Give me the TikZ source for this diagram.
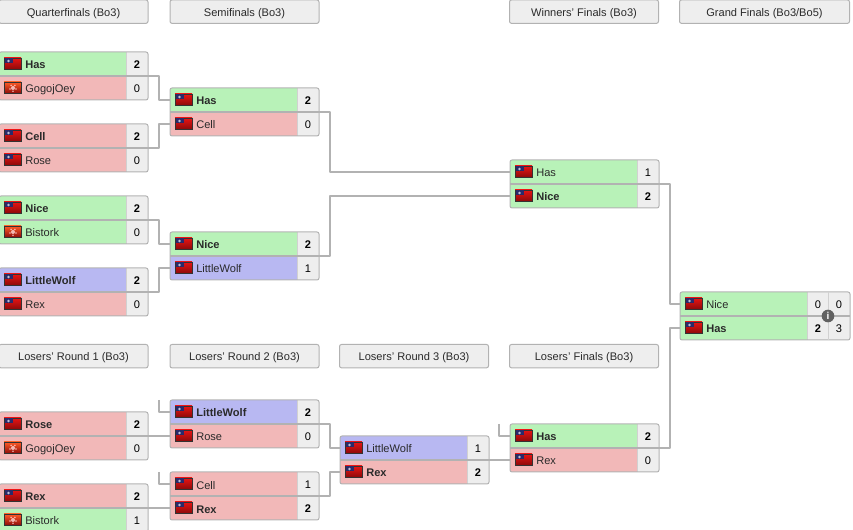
\documentclass[tikz,border=0pt]{standalone}
\usepackage{fontspec}
\setmainfont{Liberation Sans}
\definecolor{wingreen}{HTML}{B8F2B8}
\definecolor{losered}{HTML}{F2B8B8}
\definecolor{upblue}{HTML}{B8B8F2}
\definecolor{cellgray}{HTML}{EEEEEE}
\definecolor{edgegray}{HTML}{B2B2B2}
\definecolor{headtext}{HTML}{2A2A2A}
\definecolor{flagred}{HTML}{E81414}
\definecolor{flagdark}{HTML}{8A0A0A}
\definecolor{flagblue}{HTML}{2A2A6A}
\tikzset{
  cellfont/.style={font=\fontsize{8.3pt}{10pt}\selectfont,text height=9pt,text depth=2pt},
  cellbox/.style={anchor=north west,inner sep=0pt,outer sep=0pt,minimum height=18pt},
  namecell/.style={cellbox,minimum width=95.25pt},
  scorecell/.style={cellbox,cellfont,fill=cellgray,minimum width=16.5pt,text=black},
  nametext/.style={anchor=base west,inner sep=0pt,font=\fontsize{8.3pt}{10pt}\selectfont,text=headtext},
  framebox/.style={anchor=north west,draw=edgegray,line width=.75pt,rounded corners=1.5pt,inner sep=0pt,outer sep=0pt,minimum height=36pt},
  headbox/.style={anchor=north west,draw=edgegray,fill=cellgray,line width=.75pt,rounded corners=1.5pt,inner sep=0pt,outer sep=0pt,minimum height=17.5pt,cellfont,text=headtext},
  conn/.style={draw=edgegray,line width=1.5pt,line join=round},
}
% flags
\newcommand{\twflag}[2]{%
  \shade[top color=flagred,bottom color=flagdark,draw=black!80,line width=.5pt] (#1,#2-6) rectangle (#1+17,#2+5.5);
  \fill[flagblue] (#1+.5,#2-5.5) rectangle (#1+8.5,#2-.5);
  \fill[white!70!flagblue] (#1+4.5,#2-3) circle (1.4);
}
\newcommand{\hkflag}[2]{%
  \shade[top color=orange!50!red!85!white,bottom color=flagdark,draw=black!80,line width=.5pt] (#1,#2-6) rectangle (#1+17,#2+5.5);
  \fill[red!15!white,opacity=.8] (#1+9,#2) circle (2);
  \foreach \a in {18,90,162,234,306}{\fill[red!15!white,opacity=.8] (#1+9,#2)+(\a:3.2) circle (.9);}
}
% id, x, y, fill, flag macro, text, score
\newcommand{\prow}[7]{%
  \node[namecell,fill=#4] (#1) at (#2,#3) {};
  \node[scorecell] (#1s) at (#2+127,#3) {#7};
  #5{#2+5}{#3+12}
  \node[nametext] (#1t) at (#2+26,#3+17) {#6};
  \draw[edgegray!60,line width=.75pt] (#1.north east) -- (#1.south east);
}
% id, x, y, width in pt: frame and middle rule
\newcommand{\mframe}[4]{%
  \node[framebox,minimum width=#4] (#1) at (#2,#3) {};
  \draw[edgegray,line width=1.3pt] (#1.west) -- (#1.east);
}
\newcommand{\mhead}[5]{\node[headbox,minimum width=#5] (#1) at (#2,#3) {#4};}
\begin{document}
\begin{tikzpicture}[x=.75pt,y=-.75pt]
\useasboundingbox (0,0) rectangle (853,530);
\clip (0,0) rectangle (853,530);
% headers
\mhead{h1}{-1}{0}{Quarterfinals (Bo3)}{111.75pt}
\mhead{h2}{170}{0}{Semifinals (Bo3)}{111.75pt}
\mhead{h3}{509.5}{0}{Winners' Finals (Bo3)}{111.75pt}
\mhead{h4}{679.5}{0}{Grand Finals (Bo3/Bo5)}{127.5pt}
\mhead{h5}{-1}{344.5}{Losers' Round 1 (Bo3)}{111.75pt}
\mhead{h6}{170}{344.5}{Losers' Round 2 (Bo3)}{111.75pt}
\mhead{h7}{339.5}{344.5}{Losers' Round 3 (Bo3)}{111.75pt}
\mhead{h8}{509.5}{344.5}{Losers' Finals (Bo3)}{111.75pt}
% quarterfinals
\prow{qaa}{-1}{52}{wingreen}{\twflag}{\textbf{Has}}{\textbf{2}}
\prow{qab}{-1}{76}{losered}{\hkflag}{GogojOey}{0}
\mframe{qa}{-1}{52}{111.75pt}
\prow{qba}{-1}{124}{losered}{\twflag}{\textbf{Cell}}{\textbf{2}}
\prow{qbb}{-1}{148}{losered}{\twflag}{Rose}{0}
\mframe{qb}{-1}{124}{111.75pt}
\prow{qca}{-1}{196}{wingreen}{\twflag}{\textbf{Nice}}{\textbf{2}}
\prow{qcb}{-1}{220}{wingreen}{\hkflag}{Bistork}{0}
\mframe{qc}{-1}{196}{111.75pt}
\prow{qda}{-1}{268}{upblue}{\twflag}{\textbf{LittleWolf}}{\textbf{2}}
\prow{qdb}{-1}{292}{losered}{\twflag}{Rex}{0}
\mframe{qd}{-1}{268}{111.75pt}
% semifinals
\prow{saa}{170}{88}{wingreen}{\twflag}{\textbf{Has}}{\textbf{2}}
\prow{sab}{170}{112}{losered}{\twflag}{Cell}{0}
\mframe{sa}{170}{88}{111.75pt}
\prow{sba}{170}{232}{wingreen}{\twflag}{\textbf{Nice}}{\textbf{2}}
\prow{sbb}{170}{256}{upblue}{\twflag}{LittleWolf}{1}
\mframe{sb}{170}{232}{111.75pt}
% winners' finals
\prow{wa}{510}{160}{wingreen}{\twflag}{Has}{1}
\prow{wb}{510}{184}{wingreen}{\twflag}{\textbf{Nice}}{\textbf{2}}
\mframe{w}{510}{160}{111.75pt}
% grand finals
\prow{ga}{680}{292}{wingreen}{\twflag}{Nice}{0}
\prow{gb}{680}{316}{wingreen}{\twflag}{\textbf{Has}}{\textbf{2}}
\node[scorecell] (gax) at (828,292) {0};
\node[scorecell] (gbx) at (828,316) {3};
\mframe{g}{680}{292}{127.5pt}
\draw[edgegray!60,line width=.75pt] (gax.north west) -- (gbx.south west);
\node[circle,fill=black!62,inner sep=0pt,minimum size=9.5pt,text=white,font=\bfseries\fontsize{7.5pt}{8pt}\selectfont] (info) at (828,316) {i};
% losers round 1
\prow{laa}{-1}{412}{losered}{\twflag}{\textbf{Rose}}{\textbf{2}}
\prow{lab}{-1}{436}{losered}{\hkflag}{GogojOey}{0}
\mframe{la}{-1}{412}{111.75pt}
\prow{lba}{-1}{484}{losered}{\twflag}{\textbf{Rex}}{\textbf{2}}
\prow{lbb}{-1}{508}{wingreen}{\hkflag}{Bistork}{1}
\mframe{lb}{-1}{484}{111.75pt}
% losers round 2
\prow{maa}{170}{400}{upblue}{\twflag}{\textbf{LittleWolf}}{\textbf{2}}
\prow{mab}{170}{424}{losered}{\twflag}{Rose}{0}
\mframe{ma}{170}{400}{111.75pt}
\prow{mba}{170}{472}{losered}{\twflag}{Cell}{1}
\prow{mbb}{170}{496}{losered}{\twflag}{\textbf{Rex}}{\textbf{2}}
\mframe{mb}{170}{472}{111.75pt}
% losers round 3
\prow{naa}{340}{436}{upblue}{\twflag}{LittleWolf}{1}
\prow{nab}{340}{460}{losered}{\twflag}{\textbf{Rex}}{\textbf{2}}
\mframe{na}{340}{436}{111.75pt}
% losers' finals
\prow{faa}{510}{424}{wingreen}{\twflag}{\textbf{Has}}{\textbf{2}}
\prow{fab}{510}{448}{losered}{\twflag}{Rex}{0}
\mframe{fa}{510}{424}{111.75pt}
% connectors
\coordinate (stubm) at (159,400);
\coordinate (stubn) at (159,472);
\coordinate (stubf) at (499,424);
\draw[conn] (qa.east) -- ++(11,0) |- (saa.west);
\draw[conn] (qb.east) -- ++(11,0) |- (sab.west);
\draw[conn] (qc.east) -- ++(11,0) |- (sba.west);
\draw[conn] (qd.east) -- ++(11,0) |- (sbb.west);
\draw[conn] (sa.east) -- ++(11,0) |- (wa.west);
\draw[conn] (sb.east) -- ++(11,0) |- (wb.west);
\draw[conn] (w.east) -- ++(11,0) |- (ga.west);
\draw[conn] (fa.east) -- ++(11,0) |- (gb.west);
\draw[conn] (la.east) -- (mab.west);
\draw[conn] (lb.east) -- (mbb.west);
\draw[conn] (ma.east) -- ++(11,0) |- (naa.west);
\draw[conn] (mb.east) -- ++(11,0) |- (nab.west);
\draw[conn] (na.east) -- (fab.west);
\draw[conn] (stubm) |- (maa.west);
\draw[conn] (stubn) |- (mba.west);
\draw[conn] (stubf) |- (faa.west);
\end{tikzpicture}
\end{document}
